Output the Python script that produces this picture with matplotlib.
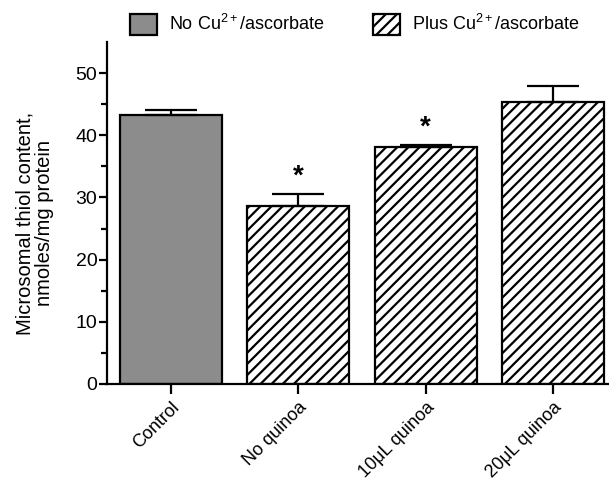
import matplotlib
matplotlib.use("Agg")
import matplotlib.pyplot as plt
from matplotlib.patches import Patch

plt.rcParams['font.family'] = ['Liberation Sans', 'DejaVu Sans']
plt.rcParams['mathtext.fontset'] = 'custom'
plt.rcParams['mathtext.rm'] = 'Liberation Sans'
plt.rcParams['mathtext.it'] = 'Liberation Sans:italic'
plt.rcParams['hatch.linewidth'] = 1.6

categories = ["Control", "No quinoa", "10\u03bcL quinoa", "20\u03bcL quinoa"]
values = [43.2, 28.7, 38.1, 45.3]
errors = [0.8, 1.9, 0.4, 2.7]
significant = [False, True, True, False]
groups = ["none", "plus", "plus", "plus"]
legend_labels = ["No Cu$^{\\mathrm{2+}}$/ascorbate", "Plus Cu$^{\\mathrm{2+}}$/ascorbate"]

W, H = 609, 482
fig = plt.figure(figsize=(W / 100, H / 100), dpi=100)
ax = fig.add_axes([107 / W, 1 - 384 / H, 510 / W, 342 / H])

x = list(range(len(categories)))
for xi, v, g in zip(x, values, groups):
    if g == "none":
        ax.bar(xi, v, width=0.8, color="#8c8c8c", edgecolor="black", linewidth=1.6, zorder=2)
    else:
        ax.bar(xi, v, width=0.8, color="white", edgecolor="black", linewidth=1.6, hatch="///", zorder=2)

ax.errorbar(x, values, yerr=[[0] * len(values), errors], fmt="none", ecolor="black",
            elinewidth=1.6, capsize=18.5, capthick=1.6, zorder=3)

for xi, v, e, s in zip(x, values, errors, significant):
    if s:
        ax.text(xi, v + e + 0.6, "*", ha="center", va="bottom", fontsize=20, fontweight="bold")

ax.set_xlim(-0.5, 3.5)
ax.set_ylim(0, 55)
ax.set_yticks([0, 10, 20, 30, 40, 50])
ax.set_yticks([5, 15, 25, 35, 45], minor=True)
ax.set_xticks(x)
ax.set_xticklabels(categories, rotation=45, ha="right", rotation_mode="anchor", fontsize=13)
ax.tick_params(axis="y", labelsize=14, width=1.6, length=6, pad=1)
ax.tick_params(axis="y", which="minor", width=1.6, length=4)
ax.tick_params(axis="x", width=1.6, length=7, pad=4)
for sp in ["top", "right"]:
    ax.spines[sp].set_visible(False)
for sp in ["left", "bottom"]:
    ax.spines[sp].set_linewidth(1.6)

ax.set_ylabel("Microsomal thiol content,\nnmoles/mg protein", fontsize=14.5, linespacing=1.0)
ax.yaxis.set_label_coords(-0.104, 0.47)

handles = [Patch(facecolor="#8c8c8c", edgecolor="black", linewidth=1.6),
           Patch(facecolor="white", edgecolor="black", linewidth=1.6, hatch="///")]
fig.legend(handles, legend_labels, loc="upper left", bbox_to_anchor=(130 / W, 1 - 14 / H), ncol=2,
           frameon=False, fontsize=13, handlelength=1.5, handleheight=1.39,
           handletextpad=0.65, columnspacing=2.7, borderpad=0, borderaxespad=0)

fig.savefig("out.png", dpi=100)
